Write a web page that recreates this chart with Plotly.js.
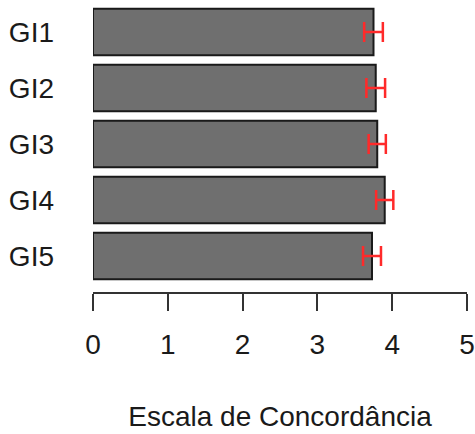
<!DOCTYPE html>
<html>
<head>
<meta charset="utf-8">
<script src="https://cdn.plot.ly/plotly-3.0.1.min.js"></script>
<style>html,body{margin:0;padding:0;background:#fff;}#chart{width:475px;height:434px;}</style>
</head>
<body>
<div id="chart"></div>
<script>
const categories = ["GI1", "GI2", "GI3", "GI4", "GI5"];
const means = [3.75, 3.78, 3.80, 3.90, 3.73];
const errors = [0.125, 0.125, 0.115, 0.115, 0.12];
const xTicks = [0, 1, 2, 3, 4, 5];
const xTitle = "Escala de Concordância";

const trace = {
  type: "bar",
  orientation: "h",
  y: categories,
  x: means,
  width: 0.833,
  marker: { color: "#6f6f6f", line: { color: "#1a1a1a", width: 2 } },
  error_x: { type: "data", array: errors, visible: true, color: "#ff2a2a", thickness: 2.5, width: 10 },
  hoverinfo: "none"
};

const layout = {
  width: 475,
  height: 434,
  margin: { l: 93, r: 8, t: 0, b: 142 },
  paper_bgcolor: "#ffffff",
  plot_bgcolor: "#ffffff",
  showlegend: false,
  font: { family: "Liberation Sans, Arial, sans-serif", color: "#1a1a1a" },
  xaxis: {
    range: [0, 5],
    tickvals: xTicks,
    ticktext: xTicks.map(String),
    showgrid: false,
    zeroline: false,
    showline: true,
    linecolor: "#333333",
    linewidth: 2,
    ticks: "outside",
    ticklen: 17,
    tickwidth: 2,
    tickcolor: "#333333",
    tickfont: { size: 28, color: "#1a1a1a" },
    ticklabelstandoff: 9,
    title: { text: xTitle, font: { size: 28, color: "#1a1a1a" }, standoff: 48 }
  },
  yaxis: {
    type: "category",
    categoryorder: "array",
    categoryarray: categories,
    range: [4.643, -0.571],
    showgrid: false,
    zeroline: false,
    showline: false,
    ticks: "",
    tickfont: { size: 28, color: "#1a1a1a" },
    ticklabelstandoff: 38
  }
};

Plotly.newPlot("chart", [trace], layout, { staticPlot: true, displayModeBar: false });
</script>
</body>
</html>
